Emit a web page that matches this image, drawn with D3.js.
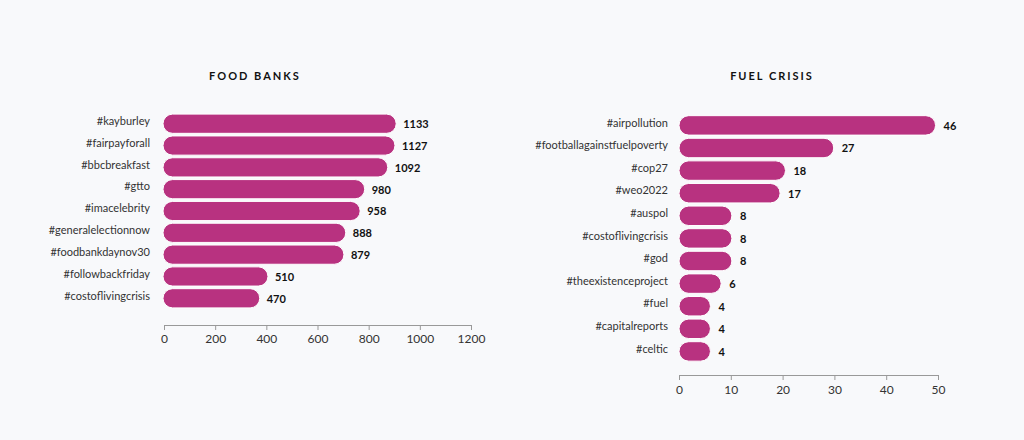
<!DOCTYPE html>
<html><head><meta charset="utf-8">
<script src="https://cdn.jsdelivr.net/npm/d3@7"></script>
<style>
html,body{margin:0;padding:0;background:#f8f9fb;}
svg{display:block;font-family:Lato,"Open Sans",sans-serif;}
</style></head>
<body>
<svg id="chart" width="1024" height="440"></svg>
<script>
const fbCategories = ["#kayburley","#fairpayforall","#bbcbreakfast","#gtto","#imacelebrity","#generalelectionnow","#foodbankdaynov30","#followbackfriday","#costoflivingcrisis"];
const fbValues = [1133,1127,1092,980,958,888,879,510,470];
const fbTicks = [0,200,400,600,800,1000,1200];

const fcCategories = ["#airpollution","#footballagainstfuelpoverty","#cop27","#weo2022","#auspol","#costoflivingcrisis","#god","#theexistenceproject","#fuel","#capitalreports","#celtic"];
const fcValues = [46,27,18,17,8,8,8,6,4,4,4];
const fcTicks = [0,10,20,30,40,50];

const barColor = "#b83280";
const svg = d3.select("#chart");
svg.append("rect").attr("width",1024).attr("height",440).attr("fill","#f8f9fb");

function panel(cfg){
  const g = svg.append("g");
  const data = cfg.cats.map((c,i)=>({c, v: cfg.vals[i]}));
  const y = d3.scaleBand().domain(cfg.cats).range(cfg.yRange).paddingInner(cfg.pad).paddingOuter(cfg.pad);
  const xBar = d3.scaleLinear().domain(cfg.barDomain).range(cfg.barRange);
  const xAxis = d3.scaleLinear().domain(cfg.axisDomain).range(cfg.axisRange);
  const x0 = cfg.barStart;
  const bw = y.bandwidth();

  g.append("text").attr("x",cfg.titleX).attr("y",77).attr("text-anchor","middle")
    .attr("dominant-baseline","middle").attr("font-size",11).attr("font-weight",700)
    .attr("letter-spacing","2px").attr("fill","#111").text(cfg.title);

  g.selectAll("rect.bar").data(data).join("rect").attr("class","bar")
    .attr("x", x0).attr("y", d=>y(d.c))
    .attr("width", d=>xBar(d.v)-x0).attr("height", bw)
    .attr("rx", bw/2).attr("ry", bw/2)
    .attr("fill", barColor).attr("stroke","#ffffff").attr("stroke-width",1);

  g.selectAll("text.lab").data(data).join("text").attr("class","lab")
    .attr("x", cfg.labelX).attr("y", d=>y(d.c)+bw/2-1.5)
    .attr("text-anchor","end").attr("dominant-baseline","middle")
    .attr("font-size",11).attr("fill","#333").text(d=>d.c);

  g.selectAll("text.val").data(data).join("text").attr("class","val")
    .attr("x", d=>xBar(d.v)+cfg.valGap).attr("y", d=>y(d.c)+bw/2+1.5)
    .attr("dominant-baseline","middle").attr("font-size",11).attr("font-weight",700)
    .attr("fill","#111").text(d=>d.v);

  const ax = g.append("g").attr("transform",`translate(0,${cfg.axisY})`)
    .call(d3.axisBottom(xAxis).tickValues(cfg.ticks).tickSize(5).tickSizeOuter(0).tickPadding(cfg.tickPad).tickFormat(d3.format("d")));
  ax.select(".domain").attr("stroke","#999");
  ax.selectAll(".tick line").attr("stroke","#999");
  ax.selectAll(".tick text").attr("font-size",12).attr("fill","#333").attr("font-family","Lato,sans-serif");
}

panel({title:"FOOD BANKS", titleX:255, cats:fbCategories, vals:fbValues,
  yRange:[111.5,310.5], pad:0.12, barStart:163,
  barDomain:[0,1200], barRange:[163,410],
  axisDomain:[0,1200], axisRange:[164,471], ticks:fbTicks, axisY:325, tickPad:4,
  labelX:150, valGap:7});

panel({title:"FUEL CRISIS", titleX:772, cats:fcCategories, vals:fcValues,
  yRange:[112.5,364.3], pad:0.14, barStart:679,
  barDomain:[0,50], barRange:[689,957],
  axisDomain:[0,50], axisRange:[679,938], ticks:fcTicks, axisY:375, tickPad:5,
  labelX:668, valGap:8});
</script>
</body></html>
